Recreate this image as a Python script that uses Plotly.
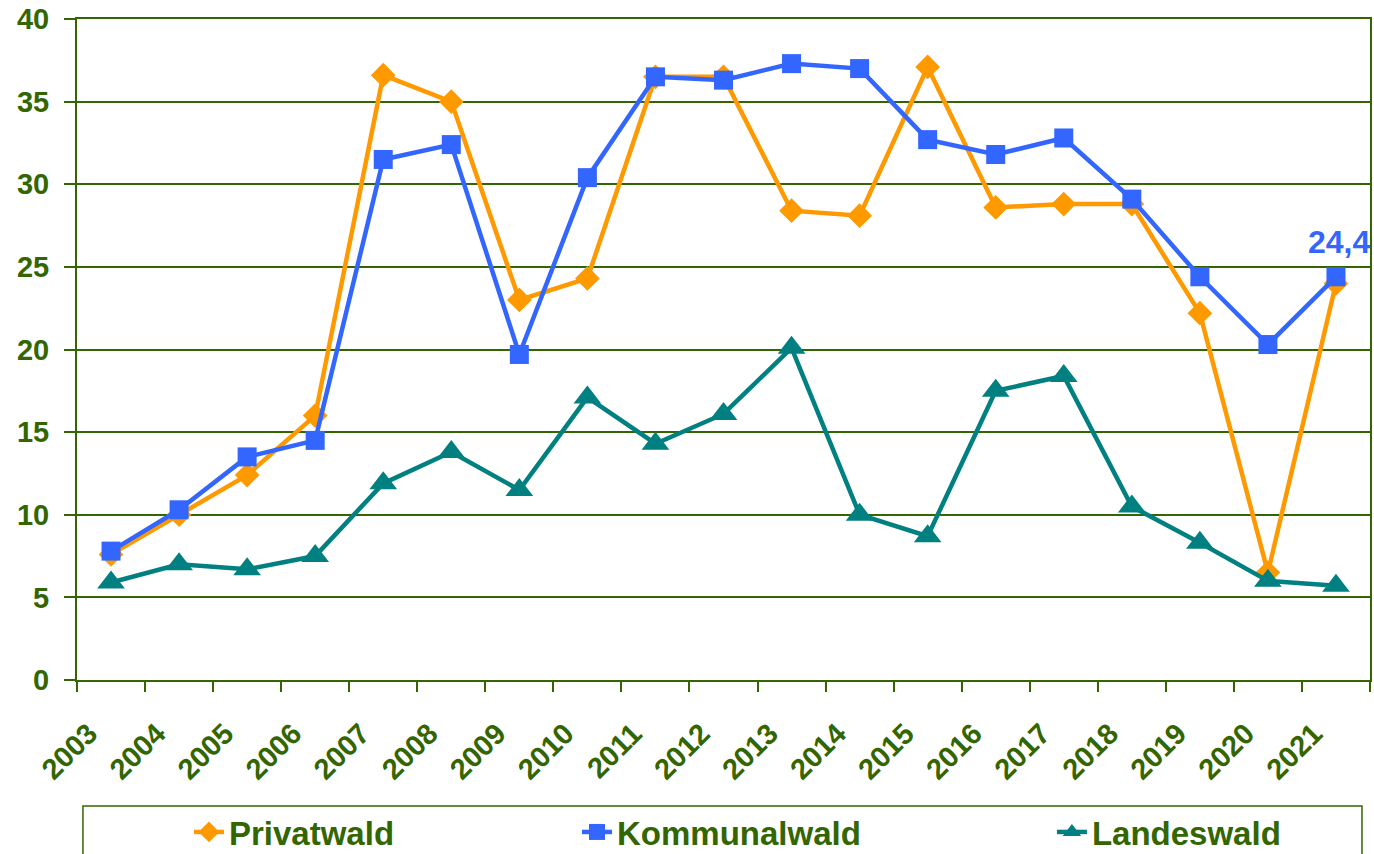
import plotly.graph_objects as go

years = [str(y) for y in range(2003, 2022)]
privatwald = [7.6, 10.0, 12.4, 16.0, 36.6, 35.0, 23.0, 24.3, 36.5, 36.5, 28.4, 28.1, 37.1, 28.6, 28.8, 28.8, 22.2, 6.5, 24.0]
kommunalwald = [7.8, 10.3, 13.5, 14.5, 31.5, 32.4, 19.7, 30.4, 36.5, 36.3, 37.3, 37.0, 32.7, 31.8, 32.8, 29.1, 24.4, 20.3, 24.4]
landeswald = [5.9, 7.0, 6.7, 7.5, 11.9, 13.8, 11.5, 17.1, 14.3, 16.1, 20.1, 10.0, 8.7, 17.5, 18.4, 10.5, 8.3, 6.0, 5.7]
y_ticks = [0, 5, 10, 15, 20, 25, 30, 35, 40]
last_label = "24,4"

GREEN = "#336600"
ORANGE = "#FF9900"
BLUE = "#3366FF"
TEAL = "#008080"
FONT = "Liberation Sans"

W, H = 1374, 854
ML, MR, MT, MB = 77, 4, 19, 174

fig = go.Figure()
fig.add_trace(go.Scatter(x=years, y=privatwald, name="Privatwald", mode="lines+markers",
                         line=dict(color=ORANGE, width=4.5),
                         marker=dict(symbol="diamond", size=19, color=ORANGE), legend="legend"))
fig.add_trace(go.Scatter(x=years, y=kommunalwald, name="Kommunalwald", mode="lines+markers",
                         line=dict(color=BLUE, width=4.5),
                         marker=dict(symbol="square", size=19, color=BLUE), legend="legend2"))
fig.add_trace(go.Scatter(x=years, y=landeswald, name="Landeswald", mode="lines+markers",
                         line=dict(color=TEAL, width=4.5),
                         marker=dict(symbol="triangle-up", size=24, color=TEAL), legend="legend3"))

fig.add_annotation(x=len(years) - 1, y=kommunalwald[-1], text="<b>" + last_label + "</b>", showarrow=False,
                   yshift=35, xshift=3, font=dict(family=FONT, size=32, color=BLUE))

# legend frame
fig.add_shape(type="rect", xref="paper", yref="paper", x0=0.0046, x1=0.9938, y0=-0.32, y1=-0.1906,
              line=dict(color=GREEN, width=1.5), fillcolor="rgba(0,0,0,0)")

legfont = dict(family=FONT, size=33, color=GREEN, weight="bold")
common_leg = dict(orientation="h", yref="container", yanchor="middle", y=(854 - 832) / 854, xanchor="left",
                  font=legfont, bgcolor="rgba(0,0,0,0)", borderwidth=0)

fig.update_layout(
    width=W, height=H,
    margin=dict(l=ML, r=MR, t=MT, b=MB, autoexpand=False),
    plot_bgcolor="white", paper_bgcolor="white",
    showlegend=True,
    legend=dict(x=0.0866, **common_leg),
    legend2=dict(x=0.3867, **common_leg),
    legend3=dict(x=0.754, **common_leg),
    xaxis=dict(type="category", range=[-0.5, len(years) - 0.5], tickson="boundaries", ticks="outside",
               ticklen=10, tickwidth=1.5, automargin=False,
               tickcolor=GREEN, showline=True, linecolor=GREEN, linewidth=2, mirror=True,
               showgrid=False, tickangle=-45, ticklabelshift=-22, ticklabelstandoff=23,
               tickfont=dict(family=FONT, size=29, color=GREEN, weight="bold")),
    yaxis=dict(range=[0, 40], tickvals=y_ticks, ticks="outside", ticklen=11, tickwidth=1.5, automargin=False,
               tickcolor=GREEN, showline=True, linecolor=GREEN, linewidth=2, mirror=True,
               showgrid=True, gridcolor=GREEN, gridwidth=1.5, zeroline=False,
               ticklabelstandoff=9, ticklabeloverflow="allow",
               tickfont=dict(family=FONT, size=29, color=GREEN, weight="bold")),
)

fig.write_html("out.html", config={"displayModeBar": False},
               post_script="document.body.style.margin='0';document.body.style.overflow='hidden';")
